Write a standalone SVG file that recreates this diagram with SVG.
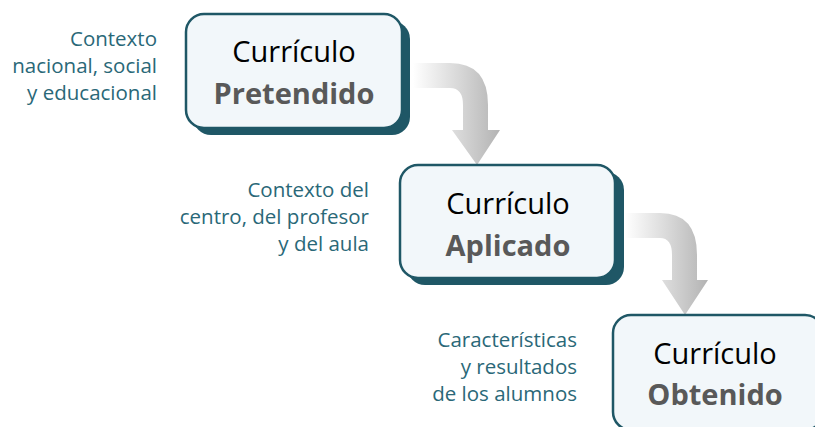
<svg xmlns="http://www.w3.org/2000/svg" width="815" height="427" viewBox="0 0 815 427">
<defs>
<linearGradient id="ag" x1="0" y1="0" x2="1" y2="0">
<stop offset="0" stop-color="#ffffff"/>
<stop offset="0.55" stop-color="#d6d6d6"/>
<stop offset="1" stop-color="#b3b3b3"/>
</linearGradient>
<style>
.sh{fill:#1f5766;}
.bx{fill:#f2f7fa;stroke:#1f5766;stroke-width:2.5;}
.t1{font-family:"Open Sans",Lato,sans-serif;font-size:29px;fill:#000;text-anchor:middle;}
.t2{font-family:"Open Sans",Lato,sans-serif;font-size:29px;font-weight:bold;fill:#595959;text-anchor:middle;}
.lb{font-family:"Open Sans",Lato,sans-serif;font-size:20.5px;fill:#2a6878;text-anchor:end;}
</style>
</defs>
<g id="connectors">
<path d="M413,63 L450,63 Q488,63 488,105 L488,130 L500,130 L477,165 L452,130 L463,130 L463,105 Q463,88 450,88 L413,88 Z" fill="url(#ag)"/>
<path d="M625,213 L660,213 Q697,213 697,255 L697,280 L708,280 L685,315 L662,280 L672,280 L672,255 Q672,238 660,238 L625,238 Z" fill="url(#ag)"/>
</g>
<g id="node-pretendido">
<rect class="sh" x="193" y="21" width="217" height="114" rx="18"/>
<rect class="bx" x="186" y="14" width="216" height="114" rx="18"/>
<text class="t1" x="294" y="62">Currículo</text>
<text class="t2" x="294" y="104">Pretendido</text>
</g>
<g id="node-aplicado">
<rect class="sh" x="407" y="172" width="217" height="113" rx="18"/>
<rect class="bx" x="400" y="165" width="215" height="113" rx="18"/>
<text class="t1" x="508" y="214">Currículo</text>
<text class="t2" x="508" y="256">Aplicado</text>
</g>
<g id="node-obtenido">
<rect class="sh" x="620" y="322" width="210" height="115" rx="18"/>
<rect class="bx" x="613" y="315" width="210" height="115" rx="18"/>
<text class="t1" x="715" y="364">Currículo</text>
<text class="t2" x="715" y="405">Obtenido</text>
</g>
<g id="label-1">
<text class="lb" x="157" y="46">Contexto</text>
<text class="lb" x="157" y="73">nacional, social</text>
<text class="lb" x="157" y="100">y educacional</text>
</g>
<g id="label-2">
<text class="lb" x="369" y="197">Contexto del</text>
<text class="lb" x="369" y="224">centro, del profesor</text>
<text class="lb" x="369" y="251">y del aula</text>
</g>
<g id="label-3">
<text class="lb" x="577" y="347">Características</text>
<text class="lb" x="577" y="374">y resultados</text>
<text class="lb" x="577" y="401">de los alumnos</text>
</g>
</svg>
